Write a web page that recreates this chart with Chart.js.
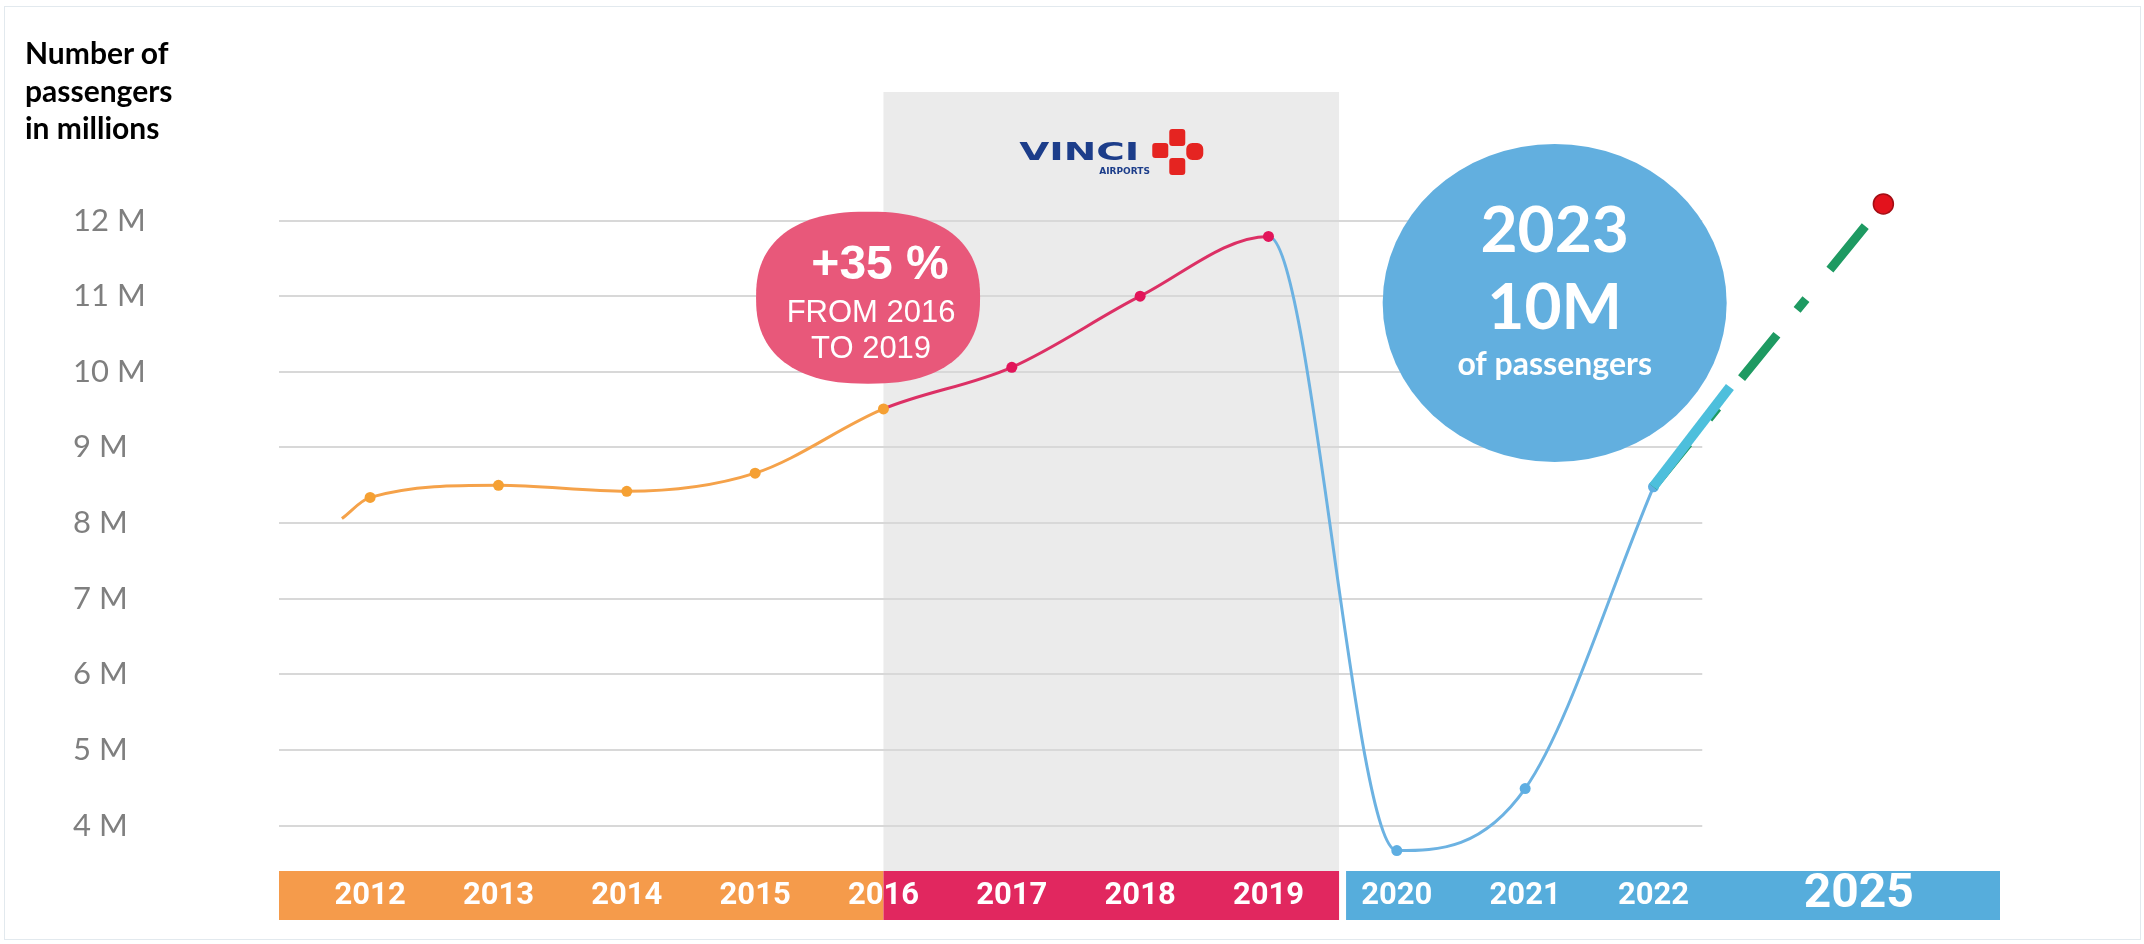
<!DOCTYPE html>
<html>
<head>
<meta charset="utf-8">
<script src="https://cdn.jsdelivr.net/npm/chart.js@4"></script>
<style>
  body { margin: 0; background: #fff; }
  #wrap { position: relative; width: 2144px; height: 944px; }
  #frame { position: absolute; left: 4px; top: 6px; width: 2135px; height: 932px; border: 1px solid #e2e9ee; pointer-events: none; }
  #title { position: absolute; left: 25px; top: 34px; font: bold 30px Lato, sans-serif; line-height: 37.5px; color: #000; }
</style>
</head>
<body>
<div id="wrap">
  <canvas id="myChart"></canvas>
  <div id="title">Number of<br>passengers<br>in millions</div>
  <div id="frame"></div>
</div>
<script>
const ctx = document.getElementById('myChart');

// passengers per year, in millions
const years = [2012, 2013, 2014, 2015, 2016, 2017, 2018, 2019, 2020, 2021, 2022];
const passengers = [8.34, 8.50, 8.42, 8.66, 9.51, 10.06, 11.0, 11.79, 3.67, 4.49, 8.48];
const curveStart = [2011.78, 8.06]; // the drawn curve begins a bit left of 2012

// projection (drawn on its own, compressed year axis)
const forecastYears = [2022, 2023, 2025];
const forecastValues = [8.48, 9.8, 12.22];

const yTicks = [4, 5, 6, 7, 8, 9, 10, 11, 12];
const yearLabels = ['2012', '2013', '2014', '2015', '2016', '2017', '2018', '2019', '2020', '2021', '2022'];
const forecastLabel = '2025';
const bandYears = [2016, 2019.55];
const gridEndYear = 2022.38;

const orange = '#f5a24a', red = '#dc3065', blue = '#6cb2e2';
function periodColor(yr, c1, c2, c3) {
  if (yr < 2016) return c1;
  if (yr < 2019) return c2;
  return c3;
}

let mainPoints = [{x: curveStart[0], y: curveStart[1]}];
years.forEach((yr, i) => mainPoints.push({x: yr, y: passengers[i]}));

const pointColors = mainPoints.map((p, i) => i == 0 ? 'rgba(0,0,0,0)' : (p.x <= 2016 ? '#f5a033' : p.x <= 2019 ? '#e2155a' : '#5eaee2'));
const pointSizes = mainPoints.map((p, i) => i == 0 ? 0 : 5.5);

function superEllipse(c, cx, cy, rx, ry, n) {
  c.beginPath();
  for (let k = 0; k <= 120; k++) {
    const t = k / 120 * Math.PI * 2;
    const co = Math.cos(t), si = Math.sin(t);
    const px = cx + rx * Math.sign(co) * Math.pow(Math.abs(co), 2 / n);
    const py = cy + ry * Math.sign(si) * Math.pow(Math.abs(si), 2 / n);
    if (k == 0) c.moveTo(px, py); else c.lineTo(px, py);
  }
  c.closePath();
}

const decor = {
  id: 'decor',
  beforeDatasetsDraw(chart) {
    const c = chart.ctx, a = chart.chartArea, x = chart.scales.x, y = chart.scales.y;
    c.save();

    // grey 2016-2019 band
    const b0 = x.getPixelForValue(bandYears[0]), b1 = x.getPixelForValue(bandYears[1]);
    c.fillStyle = '#ebebeb';
    c.fillRect(b0, a.top, b1 - b0, a.bottom - a.top);

    // gridlines
    const gx = x.getPixelForValue(gridEndYear);
    c.strokeStyle = '#d8d8d8';
    c.lineWidth = 2;
    yTicks.forEach(v => {
      const py = Math.round(y.getPixelForValue(v));
      c.beginPath();
      c.moveTo(a.left, py);
      c.lineTo(gx, py);
      c.stroke();
    });

    // VINCI Airports logo
    const lx = (b0 + b1) / 2, ly = a.top + 60;
    c.fillStyle = '#1c3d8a';
    c.font = 'bold 24px "DejaVu Sans"';
    c.textBaseline = 'alphabetic';
    c.textAlign = 'left';
    const vw = c.measureText('VINCI').width;
    c.save();
    c.translate(lx - 92, ly + 8);
    c.scale(120 / vw, 1);
    c.fillText('VINCI', 0, 0);
    c.restore();
    c.font = 'bold 9px "DejaVu Sans"';
    c.fillText('AIRPORTS', lx - 12, ly + 22);
    c.fillStyle = '#e52421';
    c.beginPath();
    c.roundRect(lx + 58, ly - 23, 16, 17, 3);
    c.roundRect(lx + 41, ly - 9, 16, 15, 3);
    c.roundRect(lx + 75, ly - 9, 17, 17, 6);
    c.roundRect(lx + 58, ly + 6, 16, 17, 3);
    c.fill();

    // +35 % bubble
    const px = x.getPixelForValue(2015.88), py = y.getPixelForValue(10.98);
    c.fillStyle = '#e8587a';
    superEllipse(c, px, py, 112, 86, 2.4);
    c.fill();
    c.fillStyle = '#fff';
    c.textAlign = 'center';
    c.font = 'bold 48px "Liberation Sans"';
    c.fillText('+35 %', px + 12, py - 19);
    c.font = '31px "Liberation Sans"';
    c.fillText('FROM 2016', px + 3, py + 24);
    c.fillText('TO 2019', px + 3, py + 60);

    // 2023 bubble
    const qx = x.getPixelForValue(2021.23), qy = y.getPixelForValue(10.91);
    c.fillStyle = '#62afdf';
    c.beginPath();
    c.ellipse(qx, qy, 172, 159, 0, 0, Math.PI * 2);
    c.fill();
    c.fillStyle = '#fff';
    c.font = 'bold 64px Lato';
    c.fillText('2023', qx, qy - 51);
    c.fillText('10M', qx, qy + 26);
    c.font = 'bold 32px Lato';
    c.fillText('of passengers', qx, qy + 72);

    c.restore();
  },
  afterDraw(chart) {
    const c = chart.ctx, a = chart.chartArea, x = chart.scales.x;
    c.save();
    const top = a.bottom, h = 49;
    const s0 = x.getPixelForValue(bandYears[0]), s1 = x.getPixelForValue(bandYears[1]);
    c.fillStyle = '#f59b4b';
    c.fillRect(a.left, top, s0 - a.left, h);
    c.fillStyle = '#e1275f';
    c.fillRect(s0, top, s1 - s0, h);
    c.fillStyle = '#56addc';
    c.fillRect(s1 + 7, top, a.right - s1 - 7, h);

    c.fillStyle = '#fff';
    c.textAlign = 'center';
    c.textBaseline = 'middle';
    c.font = 'bold 31px Roboto';
    years.forEach((yr, i) => c.fillText(yearLabels[i], x.getPixelForValue(yr), top + 25));
    c.font = 'bold 48px Roboto';
    c.fillText(forecastLabel, (x.getPixelForValue(2022.5) + a.right) / 2, top + 24);
    c.restore();
  }
};

new Chart(ctx, {
  type: 'line',
  data: {
    datasets: [
      {
        label: 'forecast 2023',
        xAxisID: 'xf',
        data: [{x: forecastYears[0], y: forecastValues[0]}, {x: forecastYears[1], y: forecastValues[1]}],
        borderColor: '#4dbfdc',
        borderWidth: 10,
        pointRadius: 0,
        order: 0
      },
      {
        label: 'forecast 2025',
        xAxisID: 'xf',
        data: [{x: forecastYears[0], y: forecastValues[0]}, {x: forecastYears[2], y: forecastValues[2]}],
        borderColor: '#1e9a62',
        borderWidth: 9,
        borderDash: [56, 32, 14, 38],
        pointRadius: [0, 10],
        pointBackgroundColor: '#e3121c',
        pointBorderColor: '#a30d14',
        pointBorderWidth: 1.5,
        order: 1
      },
      {
        label: 'Passengers',
        xAxisID: 'x',
        data: mainPoints,
        borderWidth: 3,
        borderColor: orange,
        segment: {
          borderColor: s => periodColor(mainPoints[s.p0DataIndex].x, orange, red, blue)
        },
        cubicInterpolationMode: 'monotone',
        pointRadius: pointSizes,
        pointBackgroundColor: pointColors,
        pointBorderWidth: 0,
        order: 2
      }
    ]
  },
  options: {
    responsive: true,
    maintainAspectRatio: false,
    animation: false,
    devicePixelRatio: 1,
    layout: { padding: { left: 73, top: 92, right: 144, bottom: 73 } },
    plugins: { legend: { display: false }, tooltip: { enabled: false } },
    scales: {
      x: { type: 'linear', display: false, min: 2011.29, max: 2024.70 },
      xf: { type: 'linear', display: false, min: 2004.09, max: 2026.52 },
      y: {
        min: 3.4,
        max: 13.7,
        afterBuildTicks: s => { s.ticks = yTicks.map(v => ({value: v})); },
        afterFit: s => { s.width = 206; },
        grid: { display: false },
        border: { display: false },
        ticks: {
          crossAlign: 'far',
          color: '#7f7f7f',
          font: { family: 'Lato', size: 31 },
          callback: v => v + ' M'
        }
      }
    }
  },
  plugins: [decor]
});
</script>
</body>
</html>
